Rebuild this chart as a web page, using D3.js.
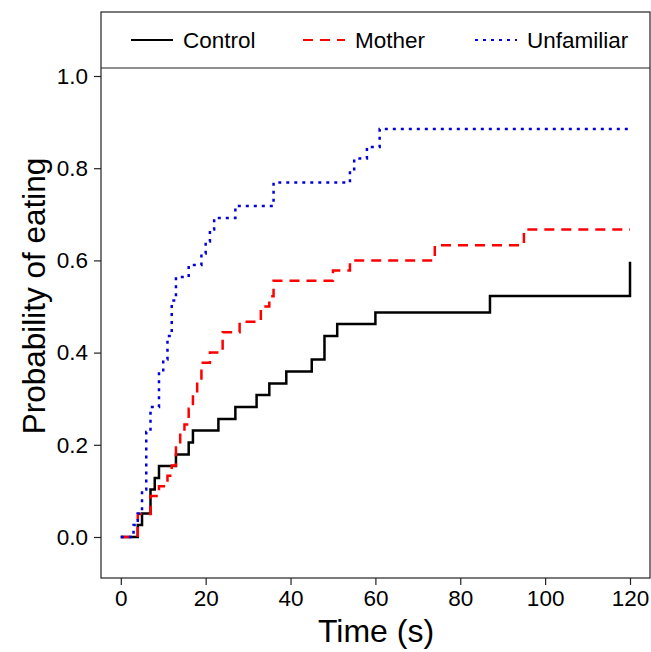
<!DOCTYPE html>
<html>
<head>
<meta charset="UTF-8">
<title>Probability of eating</title>
<script src="https://cdn.jsdelivr.net/npm/d3@7"></script>
<style>
  body { margin: 0; background: #fff; }
  text { font-family: "Liberation Sans", Arial, sans-serif; fill: #000; }
</style>
</head>
<body>
<svg id="chart" width="651" height="652"></svg>
<script>
// event times (s) and cumulative probability after each event
const controlTime = [4, 5, 7, 8, 9, 13, 16, 17, 23, 27, 32, 35, 39, 45, 48, 51, 60, 87, 120];
const controlProb = [0.026, 0.051, 0.103, 0.128, 0.154, 0.179, 0.205, 0.231, 0.256, 0.282, 0.308, 0.333, 0.359, 0.385, 0.436, 0.462, 0.487, 0.523, 0.597];

const motherTime = [4, 7, 9, 11, 12, 13, 14, 15, 16, 17, 18, 19, 21, 24, 28, 33, 35, 36, 50, 54, 74, 95];
const motherProb = [0.05, 0.089, 0.11, 0.133, 0.155, 0.2, 0.222, 0.244, 0.278, 0.311, 0.344, 0.378, 0.4, 0.444, 0.467, 0.5, 0.522, 0.556, 0.578, 0.6, 0.633, 0.667];

const unfamTime = [3, 4, 5, 6, 7, 9, 10, 11, 12, 13, 16, 19, 20, 21, 22, 27, 36, 54, 55, 58, 61];
const unfamProb = [0.026, 0.051, 0.103, 0.228, 0.282, 0.359, 0.385, 0.436, 0.513, 0.564, 0.59, 0.615, 0.641, 0.667, 0.692, 0.718, 0.769, 0.795, 0.821, 0.846, 0.885];

const xTicks = [0, 20, 40, 60, 80, 100, 120];
const yTicks = [0, 0.2, 0.4, 0.6, 0.8, 1.0];
const groups = ["Control", "Mother", "Unfamiliar"];
const endTime = 120;

const svg = d3.select("#chart");

const frame = { left: 101, right: 650, top: 12, legendBottom: 68, bottom: 578 };

const x = d3.scaleLinear().domain([0, 120]).range([120.8, 630]);
const y = d3.scaleLinear().domain([0, 1]).range([537, 76]);

function steps(times, probs) {
  const pts = [[0, 0]];
  times.forEach((t, i) => pts.push([t, probs[i]]));
  const last = pts[pts.length - 1];
  if (last[0] < endTime) pts.push([endTime, last[1]]);
  return pts;
}

const series = [
  { name: groups[0], pts: steps(controlTime, controlProb), color: "#000", dash: null },
  { name: groups[1], pts: steps(motherTime, motherProb), color: "#ff0000", dash: "10,7" },
  { name: groups[2], pts: steps(unfamTime, unfamProb), color: "#0000dd", dash: "3,5" }
];

// frame
svg.append("rect")
  .attr("x", frame.left).attr("y", frame.top)
  .attr("width", frame.right - frame.left).attr("height", frame.bottom - frame.top)
  .attr("fill", "none").attr("stroke", "#222").attr("stroke-width", 1.2);
svg.append("line")
  .attr("x1", frame.left).attr("x2", frame.right)
  .attr("y1", frame.legendBottom).attr("y2", frame.legendBottom)
  .attr("stroke", "#222").attr("stroke-width", 1.2);

// axes
const xAxis = svg.append("g")
  .attr("transform", `translate(0,${frame.bottom})`)
  .call(d3.axisBottom(x).tickValues(xTicks).tickSize(7).tickPadding(5));
const yAxis = svg.append("g")
  .attr("transform", `translate(${frame.left},0)`)
  .call(d3.axisLeft(y).tickValues(yTicks).tickSize(7).tickPadding(6).tickFormat(d3.format(".1f")));
[xAxis, yAxis].forEach(g => {
  g.select(".domain").remove();
  g.selectAll(".tick line").attr("stroke", "#222").attr("stroke-width", 1.2);
  g.selectAll(".tick text").attr("font-size", 22.5).attr("font-family", "Liberation Sans, Arial, sans-serif");
});

// titles
svg.append("text")
  .attr("x", 376).attr("y", 642)
  .attr("text-anchor", "middle").attr("font-size", 32)
  .text("Time (s)");
svg.append("text")
  .attr("transform", "translate(45,296) rotate(-90)")
  .attr("text-anchor", "middle").attr("font-size", 31.5)
  .text("Probability of eating");

// curves
const line = d3.line()
  .x(d => x(d[0])).y(d => y(d[1]))
  .curve(d3.curveStepAfter);

svg.append("g").selectAll("path")
  .data(series)
  .join("path")
  .attr("d", d => line(d.pts))
  .attr("fill", "none")
  .attr("stroke", d => d.color)
  .attr("stroke-width", 2.5)
  .attr("stroke-dasharray", d => d.dash);

// legend
const legendX = [131, 303, 475];
const legend = svg.append("g").selectAll("g")
  .data(series)
  .join("g")
  .attr("transform", (d, i) => `translate(${legendX[i]},40)`);
legend.append("line")
  .attr("x1", 0).attr("x2", 42)
  .attr("stroke", d => d.color)
  .attr("stroke-width", 2)
  .attr("stroke-dasharray", d => d.dash);
legend.append("text")
  .attr("x", 52).attr("y", 8)
  .attr("font-size", 22.5)
  .text(d => d.name);
</script>
</body>
</html>
